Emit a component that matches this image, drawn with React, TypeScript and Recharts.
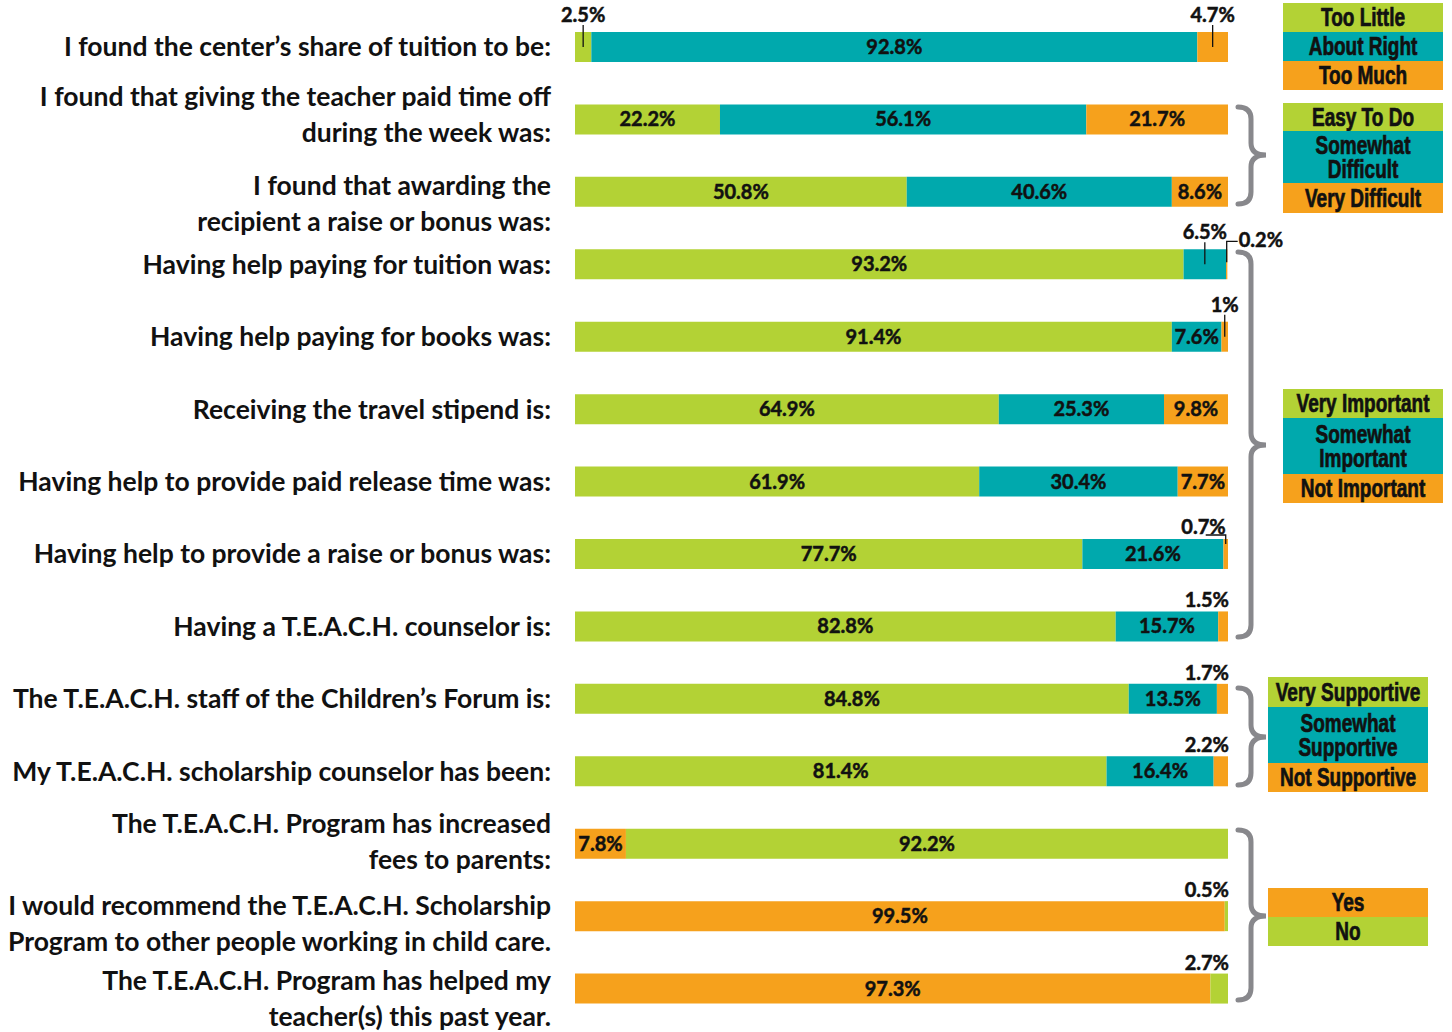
import { Bar, BarChart, Cell, LabelList, XAxis, YAxis } from "recharts";

// Survey results: one stacked bar per question, braces group questions onto a shared answer scale.

const GREEN = "#b3d235";
const TEAL = "#00a9ad";
const ORANGE = "#f6a11c";
const BRACE = "#88888c";

const questions: string[][] = [
  ["I found the center’s share of tuition to be:"],
  ["I found that giving the teacher paid time off", "during the week was:"],
  ["I found that awarding the", "recipient a raise or bonus was:"],
  ["Having help paying for tuition was:"],
  ["Having help paying for books was:"],
  ["Receiving the travel stipend is:"],
  ["Having help to provide paid release time was:"],
  ["Having help to provide a raise or bonus was:"],
  ["Having a T.E.A.C.H. counselor is:"],
  ["The T.E.A.C.H. staff of the Children’s Forum is:"],
  ["My T.E.A.C.H. scholarship counselor has been:"],
  ["The T.E.A.C.H. Program has increased", "fees to parents:"],
  ["I would recommend the T.E.A.C.H. Scholarship", "Program to other people working in child care."],
  ["The T.E.A.C.H. Program has helped my", "teacher(s) this past year."],
];

// which answer scale each question uses
const scales = [
  "share", "ease", "ease",
  "importance", "importance", "importance", "importance", "importance", "importance",
  "support", "support",
  "yesno", "yesno", "yesno",
];

// segment values, left to right
const first = [2.5, 22.2, 50.8, 93.2, 91.4, 64.9, 61.9, 77.7, 82.8, 84.8, 81.4, 7.8, 99.5, 97.3];
const second = [92.8, 56.1, 40.6, 6.5, 7.6, 25.3, 30.4, 21.6, 15.7, 13.5, 16.4, 92.2, 0.5, 2.7];
const third = [4.7, 21.7, 8.6, 0.2, 1, 9.8, 7.7, 0.7, 1.5, 1.7, 2.2, 0, 0, 0];

const shareLegend = ["Too Little", "About Right", "Too Much"];
const easeLegend = ["Easy To Do", "Somewhat|Difficult", "Very Difficult"];
const importanceLegend = ["Very Important", "Somewhat|Important", "Not Important"];
const supportLegend = ["Very Supportive", "Somewhat|Supportive", "Not Supportive"];
const yesNoLegend = ["Yes", "No"];

const scaleColors: Record<string, string[]> = {
  share: [GREEN, TEAL, ORANGE],
  ease: [GREEN, TEAL, ORANGE],
  importance: [GREEN, TEAL, ORANGE],
  support: [GREEN, TEAL, ORANGE],
  yesno: [ORANGE, GREEN, ORANGE],
};

const rows = questions.map((q, i) => ({
  q: q.join("|"),
  s1: first[i],
  s2: second[i],
  s3: third[i],
}));

// how small segments get their label
const callouts: Record<string, string> = {
  "0-0": "tick",
  "0-2": "tick",
  "3-1": "tick",
  "3-2": "elbowRight",
  "4-2": "tick",
  "7-2": "elbowLeft",
};

// vertical nudge of two-line question labels
const labelNudge = [0, -5, 12, 0, 0, 0, 0, 0, 0, 0, 0, -2, 7, 10];

const LABEL_FONT = "Lato, 'Open Sans', sans-serif";
const LEGEND_FONT = "'Liberation Sans', Arial, sans-serif";

function QuestionTick(props: any) {
  const { y, payload, index } = props;
  const lines: string[] = String(payload.value).split("|");
  const gap = 36;
  const start = y + (labelNudge[index] ?? 0) - ((lines.length - 1) * gap) / 2;
  return (
    <text
      textAnchor="end"
      fontFamily={LABEL_FONT}
      fontWeight={700}
      fontSize={26.5}
      fill="#111"
    >
      {lines.map((l, k) => (
        <tspan key={k} x={551} y={start + k * gap} dy="0.35em">
          {l}
        </tspan>
      ))}
    </text>
  );
}

const valueLabel = (seg: number) => (p: any) => {
  const { x, y, width, height, value, index } = p;
  if (!value) return null;
  const txt = `${value}%`;
  const cx = x + width / 2;
  const cy = y + height / 2;
  const common = {
    fontFamily: LABEL_FONT,
    fontWeight: 700,
    fontSize: 20,
    fill: "#111",
    stroke: "#111",
    strokeWidth: 0.5,
    dy: "0.35em",
  };
  const mode = callouts[`${index}-${seg}`] ?? (value < 3 ? "above" : "inside");
  if (mode === "inside") {
    return (
      <text x={cx} y={cy} textAnchor="middle" {...common}>
        {txt}
      </text>
    );
  }
  if (mode === "tick") {
    return (
      <g>
        <line x1={cx} x2={cx} y1={y - 7} y2={cy} stroke="#111" strokeWidth={1.3} />
        <text x={cx} y={y - 17} textAnchor="middle" {...common}>
          {txt}
        </text>
      </g>
    );
  }
  if (mode === "elbowRight") {
    return (
      <g>
        <path d={`M${cx},${cy - 2} V${y - 8} H${cx + 11}`} fill="none" stroke="#111" strokeWidth={1.3} />
        <text x={cx + 12} y={y - 9} textAnchor="start" {...common}>
          {txt}
        </text>
      </g>
    );
  }
  if (mode === "elbowLeft") {
    return (
      <g>
        <path d={`M${cx - 20},${y - 4} H${cx} V${y + 5}`} fill="none" stroke="#111" strokeWidth={1.3} />
        <text x={cx} y={y - 12} textAnchor="end" {...common}>
          {txt}
        </text>
      </g>
    );
  }
  return (
    <text x={x + width + 1} y={y - 11} textAnchor="end" {...common}>
      {txt}
    </text>
  );
};

function Brace({ top, bottom, mid }: { top: number; bottom: number; mid: number }) {
  const x0 = 1238;
  const x1 = 1251;
  const tip = 1266;
  const r = 12;
  const d =
    `M${x0},${top} Q${x1},${top} ${x1},${top + r} L${x1},${mid - r} ` +
    `Q${x1},${mid} ${tip},${mid} Q${x1},${mid} ${x1},${mid + r} ` +
    `L${x1},${bottom - r} Q${x1},${bottom} ${x0},${bottom}`;
  return <path d={d} fill="none" stroke={BRACE} strokeWidth={5} strokeLinecap="round" />;
}

function LegendBox({
  x,
  y,
  width,
  heights,
  labels,
  colors,
}: {
  x: number;
  y: number;
  width: number;
  heights: number[];
  labels: string[];
  colors: string[];
}) {
  let cur = y;
  return (
    <g>
      {labels.map((lab, i) => {
        const h = heights[i];
        const top = cur;
        cur += h;
        const lines = lab.split("|");
        const gap = 24;
        const c = top + h / 2 - ((lines.length - 1) * gap) / 2;
        return (
          <g key={lab}>
            <rect x={x} y={top} width={width} height={h} fill={colors[i]} />
            <text
              textAnchor="middle"
              fontFamily={LEGEND_FONT}
              fontWeight={700}
              fontSize={25}
              fill="#111"
              stroke="#111"
              strokeWidth={0.7}
              transform={`translate(${x + width / 2},${c}) scale(0.76,1)`}
            >
              {lines.map((l, k) => (
                <tspan key={k} x={0} y={k * gap} dy="0.35em">
                  {l}
                </tspan>
              ))}
            </text>
          </g>
        );
      })}
    </g>
  );
}

export default function App() {
  return (
    <div style={{ position: "absolute", left: 0, top: 0, width: 1452, height: 1032, background: "#fff" }}>
      <BarChart
        width={1452}
        height={1032}
        data={rows}
        layout="vertical"
        margin={{ top: 11, right: 224, bottom: 7, left: 0 }}
        barSize={30}
      >
        <XAxis type="number" domain={[0, 100]} hide />
        <YAxis
          type="category"
          dataKey="q"
          width={575}
          axisLine={false}
          tickLine={false}
          interval={0}
          tick={<QuestionTick />}
        />
        {(["s1", "s2", "s3"] as const).map((key, seg) => (
          <Bar key={key} dataKey={key} stackId="a" isAnimationActive={false}>
            {rows.map((_, i) => (
              <Cell key={i} fill={scaleColors[scales[i]][seg]} />
            ))}
            <LabelList dataKey={key} content={valueLabel(seg)} />
          </Bar>
        ))}
      </BarChart>
      <svg
        width={1452}
        height={1032}
        style={{ position: "absolute", left: 0, top: 0, pointerEvents: "none" }}
      >
        <Brace top={107} bottom={204} mid={155} />
        <Brace top={252} bottom={637} mid={445} />
        <Brace top={688} bottom={785} mid={737} />
        <Brace top={830} bottom={1000} mid={916} />
        <LegendBox x={1283} y={3} width={160} heights={[29, 29, 29]} labels={shareLegend} colors={scaleColors.share} />
        <LegendBox x={1283} y={103} width={160} heights={[28, 52, 30]} labels={easeLegend} colors={scaleColors.ease} />
        <LegendBox x={1283} y={389} width={160} heights={[29, 56, 29]} labels={importanceLegend} colors={scaleColors.importance} />
        <LegendBox x={1268} y={677} width={160} heights={[30, 56, 29]} labels={supportLegend} colors={scaleColors.support} />
        <LegendBox x={1268} y={888} width={160} heights={[29, 29]} labels={yesNoLegend} colors={scaleColors.yesno} />
      </svg>
    </div>
  );
}
